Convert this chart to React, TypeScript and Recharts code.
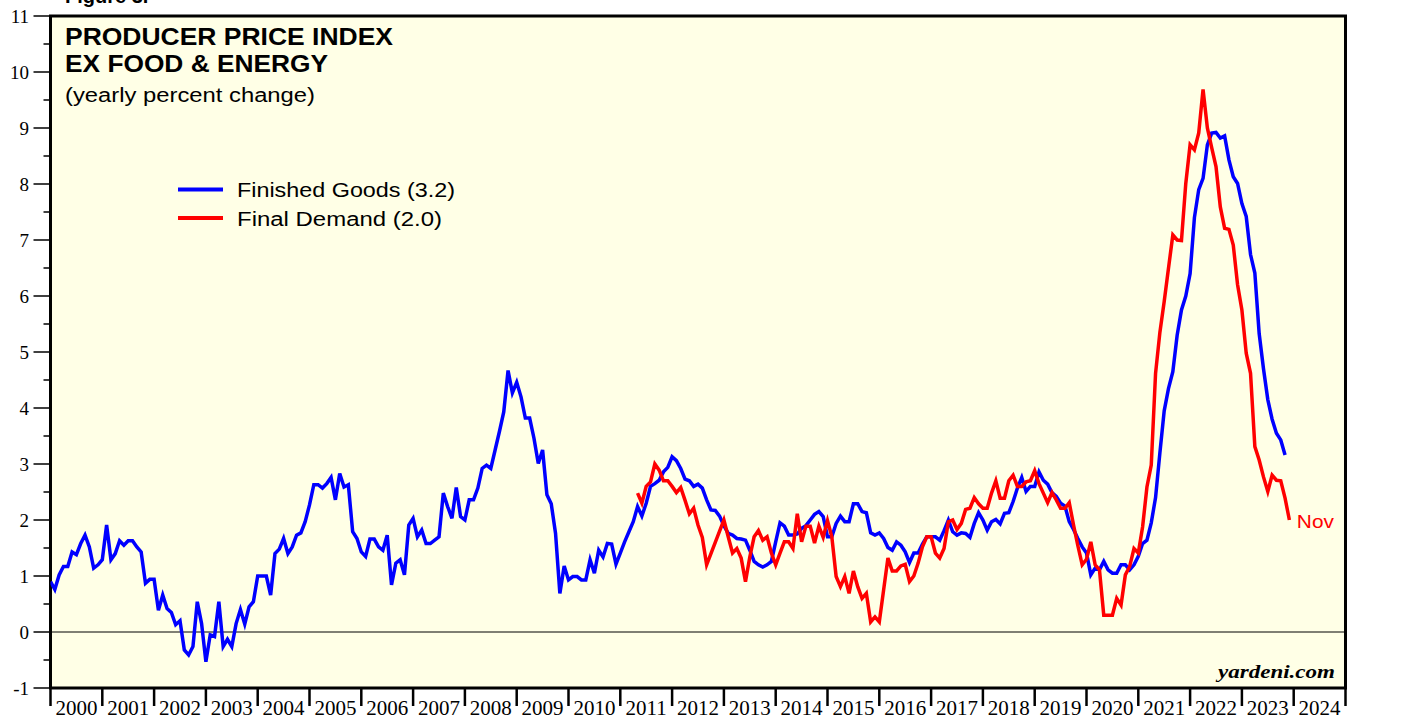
import React from 'react';
import {
  LineChart,
  Line,
  XAxis,
  YAxis,
  CartesianGrid,
  ReferenceLine,
  ReferenceArea
} from 'recharts';

const WIDTH = 1405;
const HEIGHT = 719;
const PLOT_LEFT = 50.5;
const PLOT_RIGHT = 1345.5;
const PLOT_TOP = 16;
const PLOT_BOTTOM = 688;
const YEAR_W = (PLOT_RIGHT - PLOT_LEFT) / 25;

const BLUE = '#0000ff';
const RED = '#ff0000';
const BG = '#ffffe6';
const SERIF = "'Liberation Serif', 'Times New Roman', serif";
const SANS = "'Liberation Sans', Arial, sans-serif";

// PPI finished goods ex food & energy, yearly % change, monthly from Jan 2000
const finishedGoods2000s = [
  0.9, 0.76, 1.02, 1.17, 1.17, 1.43, 1.38, 1.58, 1.73, 1.52, 1.14, 1.2,
  1.29, 1.91, 1.29, 1.4, 1.63, 1.55, 1.63, 1.63, 1.52, 1.43, 0.87, 0.94,
  0.94, 0.39, 0.66, 0.42, 0.35, 0.13, 0.2, -0.32, -0.41, -0.26, 0.54, 0.15,
  -0.53, -0.05, -0.08, 0.54, -0.26, -0.13, -0.26, 0.15, 0.4, 0.14, 0.45, 0.54,
  1.0, 1.0, 1.0, 0.66, 1.4, 1.48, 1.67, 1.4, 1.52, 1.73, 1.77, 1.97,
  2.27, 2.63, 2.63, 2.57, 2.65, 2.76, 2.36, 2.83, 2.59, 2.63, 1.79, 1.67,
  1.43, 1.35, 1.66, 1.66, 1.52, 1.46, 1.73, 0.84, 1.23, 1.29, 1.02, 1.91,
  2.03, 1.7, 1.82, 1.58, 1.58, 1.64, 1.7, 2.48, 2.24, 2.03, 2.58, 2.06,
  2.0, 2.36, 2.36, 2.57, 2.92, 2.98, 2.92, 3.25, 3.58, 3.93, 4.67, 4.27,
  4.46, 4.2, 3.82, 3.82, 3.46, 3.01, 3.25, 2.45, 2.29, 1.76, 0.69, 1.18
];

const finishedGoods2010s = [
  0.93, 0.99, 0.99, 0.93, 0.93, 1.29, 1.05, 1.46, 1.34, 1.58, 1.57, 1.21,
  1.41, 1.61, 1.79, 1.97, 2.24, 2.07, 2.3, 2.6, 2.65, 2.71, 2.86, 2.94,
  3.13, 3.06, 2.92, 2.73, 2.7, 2.6, 2.64, 2.57, 2.36, 2.18, 2.17, 2.07,
  1.9, 1.76, 1.73, 1.67, 1.66, 1.64, 1.46, 1.26, 1.2, 1.16, 1.2, 1.26,
  1.61, 1.95, 1.89, 1.73, 1.73, 1.75, 1.85, 1.9, 2.0, 2.1, 2.15, 2.06,
  1.7, 1.7, 1.94, 2.07, 1.97, 1.97, 2.29, 2.29, 2.15, 2.13, 1.77, 1.73,
  1.77, 1.67, 1.51, 1.46, 1.61, 1.55, 1.43, 1.24, 1.41, 1.41, 1.57, 1.7,
  1.7, 1.7, 1.64, 1.81, 2.0, 1.79, 1.73, 1.77, 1.76, 1.69, 1.94, 2.13,
  2.0, 1.82, 1.97, 2.01, 1.93, 2.12, 2.13, 2.33, 2.57, 2.76, 2.51, 2.6,
  2.6, 2.86, 2.71, 2.64, 2.49, 2.42, 2.3, 2.25, 1.97, 1.83, 1.67, 1.52
];

const finishedGoods2020s = [
  1.41, 1.02, 1.14, 1.11, 1.26, 1.11, 1.05, 1.05, 1.2, 1.2, 1.11, 1.2,
  1.35, 1.58, 1.64, 1.95, 2.4, 3.2, 3.95, 4.35, 4.65, 5.3, 5.75, 6.0,
  6.4, 7.4, 7.9, 8.1, 8.7, 8.91, 8.92, 8.82, 8.86, 8.43, 8.13, 8.01,
  7.65, 7.42, 6.74, 6.41, 5.33, 4.7, 4.15, 3.8, 3.55, 3.43, 3.16
];

// PPI final demand ex food & energy, yearly % change, monthly as plotted from May 2011
const finalDemand2010s = [
  2.48, 2.3, 2.6, 2.68, 3.0, 2.89, 2.7, 2.7,
  2.6, 2.49, 2.58, 2.35, 2.11, 2.21, 1.91, 1.69, 1.2, 1.4, 1.6, 1.8,
  2.0, 1.7, 1.41, 1.49, 1.32, 0.9, 1.34, 1.7, 1.81, 1.64, 1.7, 1.41,
  1.2, 1.41, 1.61, 1.61, 1.49, 2.11, 1.61, 1.89, 1.89, 1.59, 1.89, 1.69,
  1.99, 1.7, 0.99, 0.81, 0.99, 0.69, 1.09, 0.81, 0.6, 0.69, 0.18, 0.27,
  0.18, 0.75, 1.32, 1.09, 1.09, 1.18, 1.21, 0.9, 1.0, 1.23, 1.52, 1.7,
  1.7, 1.41, 1.32, 1.49, 1.97, 2.0, 1.83, 1.94, 2.19, 2.21, 2.4, 2.29,
  2.21, 2.21, 2.48, 2.7, 2.39, 2.39, 2.7, 2.8, 2.6, 2.6, 2.68, 2.7,
  2.88, 2.65, 2.48, 2.31, 2.49, 2.36, 2.21, 2.21, 2.31, 1.91, 1.54, 1.2
];

const finalDemand2020s = [
  1.3, 1.61, 1.2, 1.11, 0.3, 0.3, 0.3, 0.6, 0.48, 1.02, 1.17, 1.49,
  1.41, 1.88, 2.59, 2.98, 4.62, 5.35, 5.9, 6.5, 7.09, 7.0, 6.99, 8.01,
  8.7, 8.61, 8.91, 9.69, 9.0, 8.65, 8.31, 7.59, 7.21, 7.19, 6.91, 6.2,
  5.75, 4.98, 4.62, 3.31, 3.07, 2.77, 2.51, 2.8, 2.71, 2.7, 2.39, 2.0
];

const yearTicks = Array.from({ length: 26 }, (_, k) => 2000 + k);
const valueTicks = Array.from({ length: 25 }, (_, k) => -1 + k * 0.5);

const toSeries = (start: number, values: number[]) =>
  values.map((v, k) => ({ t: start + k / 12, v }));

const blueData = [
  ...toSeries(2000, finishedGoods2000s),
  ...toSeries(2010, finishedGoods2010s),
  ...toSeries(2020, finishedGoods2020s)
];

const redData = [
  ...toSeries(2011 + 4 / 12, finalDemand2010s),
  ...toSeries(2020, finalDemand2020s)
];

const LeftTick = (props: any) => {
  const { y, payload } = props;
  const major = Number.isInteger(payload.value);
  return (
    <g>
      <line x1={PLOT_LEFT - (major ? 17 : 7)} x2={PLOT_LEFT} y1={y} y2={y} stroke="#000" strokeWidth={1.5} />
      {major && (
        <text x={29} y={y + 7} textAnchor="end" fontFamily={SERIF} fontSize={19} fill="#000">
          {payload.value}
        </text>
      )}
    </g>
  );
};

const RightTick = (props: any) => {
  const { y, payload } = props;
  const major = Number.isInteger(payload.value);
  return (
    <g>
      <line x1={PLOT_RIGHT} x2={PLOT_RIGHT + (major ? 16 : 8)} y1={y} y2={y} stroke="#000" strokeWidth={1.5} />
      {major && (
        <text x={PLOT_RIGHT + 21} y={y + 7} textAnchor="start" fontFamily={SERIF} fontSize={19} fill="#000">
          {payload.value}
        </text>
      )}
    </g>
  );
};

const YearTick = (props: any) => {
  const { x, payload } = props;
  const yr = payload.value;
  return (
    <g>
      <line x1={x} x2={x} y1={PLOT_BOTTOM} y2={PLOT_BOTTOM + 18} stroke="#000" strokeWidth={2.5} />
      {yr < 2025 && (
        <text x={x + YEAR_W / 2} y={715} textAnchor="middle" fontFamily={SERIF} fontSize={21} fill="#000">
          {yr}
        </text>
      )}
    </g>
  );
};

const renderNov = (p: any) => {
  if (p.index !== redData.length - 1) return <g key={`n-${p.index}`} />;
  return (
    <text key="nov" x={p.x + 7.5} y={p.y + 8} fill={RED} fontFamily={SANS} fontSize={19} textLength={37} lengthAdjust="spacingAndGlyphs">
      Nov
    </text>
  );
};

export default function App() {
  return (
    <div style={{ position: 'absolute', left: 0, top: 0, width: WIDTH, height: HEIGHT, background: '#fff' }}>
      <LineChart width={WIDTH} height={HEIGHT} margin={{ top: PLOT_TOP, right: 0, bottom: 0, left: 0 }}>
        <CartesianGrid fill={BG} horizontal={false} vertical={false} stroke="none" />
        <XAxis
          dataKey="t"
          type="number"
          domain={[2000, 2025]}
          ticks={yearTicks}
          interval={0}
          height={HEIGHT - PLOT_BOTTOM}
          tick={<YearTick />}
          tickLine={false}
          axisLine={false}
          allowDataOverflow
        />
        <YAxis
          yAxisId="left"
          type="number"
          domain={[-1, 11]}
          ticks={valueTicks}
          interval={0}
          width={PLOT_LEFT}
          tick={<LeftTick />}
          tickLine={false}
          axisLine={false}
        />
        <YAxis
          yAxisId="right"
          orientation="right"
          type="number"
          domain={[-1, 11]}
          ticks={valueTicks}
          interval={0}
          width={WIDTH - PLOT_RIGHT}
          tick={<RightTick />}
          tickLine={false}
          axisLine={false}
        />
        <ReferenceLine yAxisId="left" y={0} stroke="#000" strokeWidth={1} />
        <Line
          yAxisId="left"
          data={blueData}
          dataKey="v"
          type="linear"
          stroke={BLUE}
          strokeWidth={3.5}
          dot={false}
          isAnimationActive={false}
        />
        <Line
          yAxisId="left"
          data={redData}
          dataKey="v"
          type="linear"
          stroke={RED}
          strokeWidth={3.5}
          dot={false}
          label={renderNov}
          isAnimationActive={false}
        />
        <ReferenceArea
          yAxisId="left"
          x1={2000}
          x2={2025}
          y1={-1}
          y2={11}
          fill="none"
          stroke="#000"
          strokeWidth={3}
        />
      </LineChart>
      <svg
        width={WIDTH}
        height={HEIGHT}
        style={{ position: 'absolute', left: 0, top: 0, pointerEvents: 'none' }}
      >
        <text x={65} y={3} fontFamily={SANS} fontWeight="bold" fontSize={20} fill="#000">Figure 3.</text>
        <text x={65} y={45} fontFamily={SANS} fontWeight="bold" fontSize={23} textLength={328} lengthAdjust="spacingAndGlyphs" fill="#000">
          PRODUCER PRICE INDEX
        </text>
        <text x={65} y={72} fontFamily={SANS} fontWeight="bold" fontSize={23} textLength={263} lengthAdjust="spacingAndGlyphs" fill="#000">
          EX FOOD &amp; ENERGY
        </text>
        <text x={65} y={102} fontFamily={SANS} fontSize={20} textLength={250} lengthAdjust="spacingAndGlyphs" fill="#000">
          (yearly percent change)
        </text>
        <line x1={178} x2={223} y1={189.5} y2={189.5} stroke={BLUE} strokeWidth={4} />
        <text x={237} y={197} fontFamily={SANS} fontSize={20} textLength={218} lengthAdjust="spacingAndGlyphs" fill="#000">
          Finished Goods (3.2)
        </text>
        <line x1={178} x2={223} y1={218} y2={218} stroke={RED} strokeWidth={4} />
        <text x={237} y={226} fontFamily={SANS} fontSize={20} textLength={205} lengthAdjust="spacingAndGlyphs" fill="#000">
          Final Demand (2.0)
        </text>
        <text x={1335} y={678} textAnchor="end" fontFamily={SERIF} fontWeight="bold" fontStyle="italic" fontSize={19} textLength={117} lengthAdjust="spacingAndGlyphs" fill="#000">
          yardeni.com
        </text>
      </svg>
    </div>
  );
}
